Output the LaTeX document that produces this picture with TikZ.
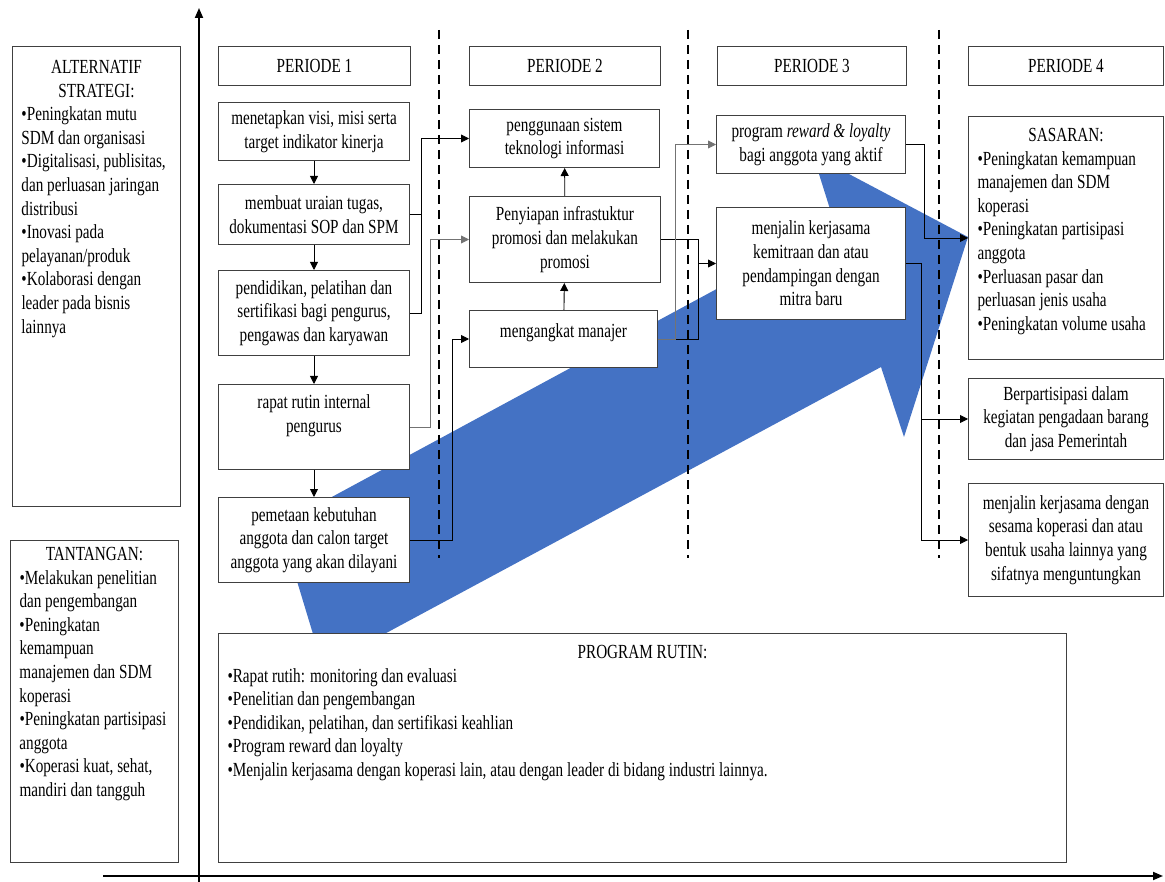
\documentclass[tikz,border=0pt]{standalone}
\usepackage{fontspec}
\setmainfont{Liberation Serif}[FakeStretch=0.76]
\usetikzlibrary{arrows.meta,calc}
\definecolor{arrowblue}{HTML}{4472C4}
\definecolor{edgegray}{gray}{0.25}

\newcommand{\boxfont}{\fontsize{20}{23.6}\selectfont}
% centred text in a box of fixed size
\newcommand{\cbox}[3]{\parbox[c][#2pt][c]{#1pt}{\centering #3}}
% text hung from the top of a box of fixed size
\newcommand{\tbox}[4]{\parbox[c][#2pt][t]{#1pt}{\rule{0pt}{#3pt}#4}}
\newcommand{\boxitems}{\raggedright\leftskip=9pt\relax}

\begin{document}
\begin{tikzpicture}[
  x=1pt, y=-1pt,
  box/.style={draw=edgegray,line width=1pt,fill=white,inner sep=0pt,anchor=north west,font=\boxfont},
  arr/.style={-{Triangle[length=8pt,width=8pt]},line width=0.9pt},
  lin/.style={line width=0.9pt},
  axis/.style={-{Triangle[length=10pt,width=8pt]},line width=1.8pt},
  sep/.style={line width=2pt,dash pattern=on 9pt off 6pt}
]
\useasboundingbox (0,0) rectangle (1165,882);

% big arrow behind everything
\fill[arrowblue] (280,525) -- (835,225) -- (813,155) -- (968,237) -- (904,437) -- (881,367) -- (323,667) -- cycle;

\foreach \x in {439,688,939} \draw[sep] (\x,30) -- (\x,558);
\draw[axis] (199,882) -- (199,8);
\draw[axis] (103,876) -- (1163,876);

% left column
\node[box] (alt) at (12,46) {\tbox{168}{460}{27}{{\centering ALTERNATIF\\STRATEGI:\par}\boxitems
  •Peningkatan mutu\\SDM dan organisasi\\•Digitalisasi, publisitas,\\dan perluasan jaringan\\distribusi\\•Inovasi pada\\pelayanan/produk\\•Kolaborasi dengan\\leader pada bisnis\\lainnya}};
\node[box] (tan) at (10,540) {\tbox{168}{322}{20}{{\centering TANTANGAN:\par}\boxitems
  •Melakukan penelitian\\dan pengembangan\\•Peningkatan\\kemampuan\\manajemen dan SDM\\koperasi\\•Peningkatan partisipasi\\anggota\\•Koperasi kuat, sehat,\\mandiri dan tangguh}};

% period headers
\node[box] (hd1) at (218,46) {\cbox{192}{39}{PERIODE 1}};
\node[box] (hd2) at (469,46) {\cbox{191}{39}{PERIODE 2}};
\node[box] (hd3) at (717,46) {\cbox{189}{39}{PERIODE 3}};
\node[box] (hd4) at (968,46) {\cbox{195}{39}{PERIODE 4}};

% periode 1
\node[box] (m1) at (218,102) {\cbox{191}{58}{menetapkan visi, misi serta\\target indikator kinerja}};
\node[box] (m2) at (218,184) {\cbox{191}{60}{membuat uraian tugas,\\dokumentasi SOP dan SPM}};
\node[box] (m3) at (218,270) {\cbox{191}{85}{pendidikan, pelatihan dan\\sertifikasi bagi pengurus,\\pengawas dan karyawan}};
\node[box] (m4) at (218,384) {\tbox{191}{85}{24}{\centering rapat rutin internal\\pengurus}};
\node[box] (m5) at (218,497) {\cbox{191}{85}{pemetaan kebutuhan\\anggota dan calon target\\anggota yang akan dilayani}};

% periode 2
\node[box] (p2a) at (469,109) {\cbox{190}{58}{penggunaan sistem\\teknologi informasi}};
\node[box] (p2b) at (469,196) {\cbox{191}{86}{Penyiapan infrastuktur\\promosi dan melakukan\\promosi}};
\node[box] (p2c) at (469,310) {\tbox{188}{57}{27}{\centering mengangkat manajer}};

% periode 3
\node[box] (p3a) at (716,115) {\cbox{189}{58}{program \textit{reward \& loyalty}\\bagi anggota yang aktif}};
\node[box] (p3b) at (716,207) {\cbox{189}{112}{menjalin kerjasama\\kemitraan dan atau\\pendampingan dengan\\mitra baru}};

% periode 4
\node[box] (sas) at (968,116) {\tbox{195}{243}{25}{{\centering SASARAN:\par}\boxitems
  •Peningkatan kemampuan\\manajemen dan SDM\\koperasi\\•Peningkatan partisipasi\\anggota\\•Perluasan pasar dan\\perluasan jenis usaha\\•Peningkatan volume usaha}};
\node[box] (berp) at (968,378) {\cbox{195}{81}{Berpartisipasi dalam\\kegiatan pengadaan barang\\dan jasa Pemerintah}};
\node[box] (kerja) at (968,483) {\cbox{195}{113}{menjalin kerjasama dengan\\sesama koperasi dan atau\\bentuk usaha lainnya yang\\sifatnya menguntungkan}};

\node[box] (prog) at (218,633) {\tbox{848}{229}{25}{{\centering PROGRAM RUTIN:\par}\boxitems
  •Rapat rutih: monitoring dan evaluasi\\•Penelitian dan pengembangan\\•Pendidikan, pelatihan, dan sertifikasi keahlian\\•Program reward dan loyalty\\•Menjalin kerjasama dengan koperasi lain, atau dengan leader di bidang industri lainnya.}};

% connectors
\foreach \a/\b in {m1/m2,m2/m3,m3/m4,m4/m5} \draw[arr] (\a) -- (\b);
\draw[arr] (p2c) -- (p2b);
\draw[arr] (p2b) -- (p2a);
\coordinate (j1) at ($(m2.east)+(11,0)$);
\draw[arr] (m2.east) -- (j1) |- (p2a.west);
\draw[lin] (m3.east) -| (j1);
\draw[arr,draw=black!55] (m4.east) -- ++(20,0) |- (p2b.west);
\draw[arr] (m5.east) -- ++(42,0) |- (p2c.west);
\coordinate (j2) at ($(p2b.east)+(37,0)$);
\draw[arr] (p2b.east) -- (j2) |- (p3b.west);
\draw[lin] (p2c.east) -| (j2);
\draw[arr,draw=black!55] (p2c.east) -- ++(17,0) |- (p3a.west);
\draw[arr] (p3a.east) -- ++(18,0) |- (sas.west);
\coordinate (j3) at ($(p3b.east)+(15,0)$);
\draw[arr] (p3b.east) -- (j3) |- (berp.west);
\draw[arr] (j3) |- (kerja.west);
\end{tikzpicture}
\end{document}
